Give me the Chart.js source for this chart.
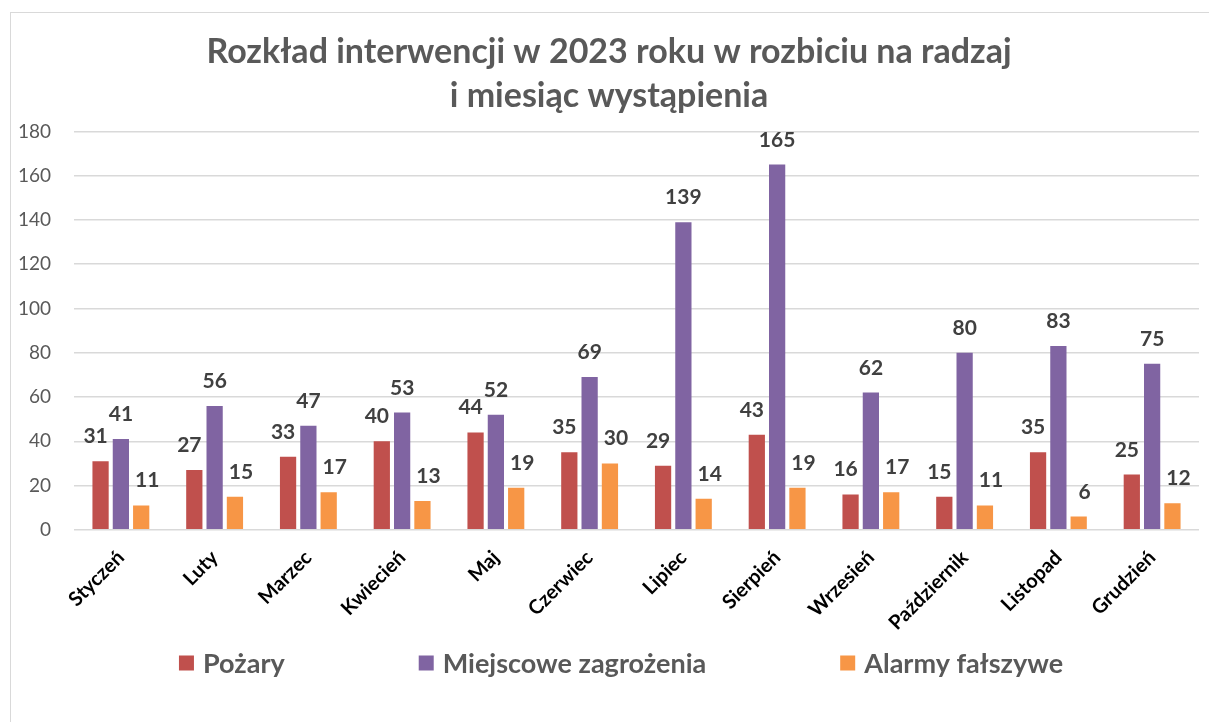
<!DOCTYPE html>
<html lang="pl">
<head>
<meta charset="utf-8">
<title>Rozkład interwencji 2023</title>
<script src="https://cdn.jsdelivr.net/npm/chart.js@4.4.1/dist/chart.umd.min.js"></script>
<style>
  html, body { margin: 0; padding: 0; background: #fff; }
  #frame {
    position: absolute; left: 10px; top: 12px;
    width: 1199px; height: 710px;
    border-left: 1px solid #d9d9d9; border-top: 1px solid #d9d9d9;
    box-sizing: border-box;
  }
  canvas { display: block; }
</style>
</head>
<body>
<div id="frame"><canvas id="chart" width="1198" height="709"></canvas></div>
<script>
// Months (categories)
const months = ['Styczeń', 'Luty', 'Marzec', 'Kwiecień', 'Maj', 'Czerwiec',
  'Lipiec', 'Sierpień', 'Wrzesień', 'Październik', 'Listopad', 'Grudzień'];

// Series values
const pozary = [31, 27, 33, 40, 44, 35, 29, 43, 16, 15, 35, 25];
const miejscowe = [41, 56, 47, 53, 52, 69, 139, 165, 62, 80, 83, 75];
const alarmy = [11, 15, 17, 13, 19, 30, 14, 19, 17, 11, 6, 12];

const titleLines = ['Rozkład interwencji w 2023 roku w rozbiciu na radzaj', 'i miesiąc wystąpienia'];

const FONT = 'Lato, "Open Sans", sans-serif';

// small plugin: value labels above the bars (no datalabels plugin offline)
const barValues = {
  id: 'barValues',
  afterDatasetsDraw(chart) {
    const ctx = chart.ctx;
    const shift = [-5, 0, 6];
    ctx.save();
    ctx.font = 'bold 21px ' + FONT;
    ctx.fillStyle = '#404040';
    ctx.textAlign = 'center';
    ctx.textBaseline = 'alphabetic';
    chart.data.datasets.forEach((ds, i) => {
      chart.getDatasetMeta(i).data.forEach((bar, j) => {
        ctx.fillText(ds.data[j], bar.x + shift[i], bar.y - 18);
      });
    });
    ctx.restore();
  }
};

// legend drawn by hand: Excel spaces the entries much wider than Chart.js does
const wideLegend = {
  id: 'wideLegend',
  afterDraw(chart) {
    const ctx = chart.ctx;
    const box = 15, gapText = 9, gapItem = 134;
    ctx.save();
    ctx.font = 'bold 27px ' + FONT;
    ctx.textBaseline = 'middle';
    const items = chart.data.datasets.map(ds => ({
      text: ds.label, color: ds.backgroundColor, w: ctx.measureText(ds.label).width
    }));
    const total = items.reduce((s, it) => s + box + gapText + it.w, 0) + gapItem * (items.length - 1);
    let x = chart.width / 2 + 11 - total / 2;
    const y = 650;
    items.forEach(it => {
      ctx.fillStyle = it.color;
      ctx.fillRect(x, y - box / 2, box, box);
      ctx.fillStyle = '#595959';
      ctx.fillText(it.text, x + box + gapText, y + 1);
      x += box + gapText + it.w + gapItem;
    });
    ctx.restore();
  }
};

new Chart(document.getElementById('chart'), {
  type: 'bar',
  data: {
    labels: months,
    datasets: [
      { label: 'Pożary', data: pozary, backgroundColor: '#C0504D' },
      { label: 'Miejscowe zagrożenia', data: miejscowe, backgroundColor: '#8064A2' },
      { label: 'Alarmy fałszywe', data: alarmy, backgroundColor: '#F79646' }
    ]
  },
  options: {
    responsive: false,
    animation: false,
    categoryPercentage: 0.65,
    barPercentage: 0.8,
    layout: { padding: { left: 8, right: 10, top: 0, bottom: 79 } },
    plugins: {
      title: {
        display: true,
        text: titleLines,
        color: '#595959',
        font: { family: FONT, size: 34, weight: 'bold', lineHeight: 1.3 },
        padding: { top: 17, bottom: 13 }
      },
      legend: { display: false },
      tooltip: { enabled: false }
    },
    scales: {
      x: {
        grid: { display: false },
        border: { display: false },
        ticks: {
          color: '#000',
          font: { family: FONT, size: 20, weight: 'bold' },
          minRotation: 45,
          maxRotation: 45,
          padding: 8
        },
        // let the first rotated label hang past the plot edge, as in the original
        afterFit(scale) {
          scale.paddingLeft = 0;
          scale.paddingRight = 0;
        }
      },
      y: {
        min: 0,
        max: 180,
        grid: { color: '#d9d9d9', lineWidth: 1.5, drawTicks: false },
        border: { display: false },
        ticks: {
          stepSize: 20,
          color: '#595959',
          font: { family: FONT, size: 19 },
          padding: 23
        },
        afterFit(scale) {
          scale.width = 55;
        }
      }
    }
  },
  plugins: [barValues, wideLegend]
});
</script>
</body>
</html>
